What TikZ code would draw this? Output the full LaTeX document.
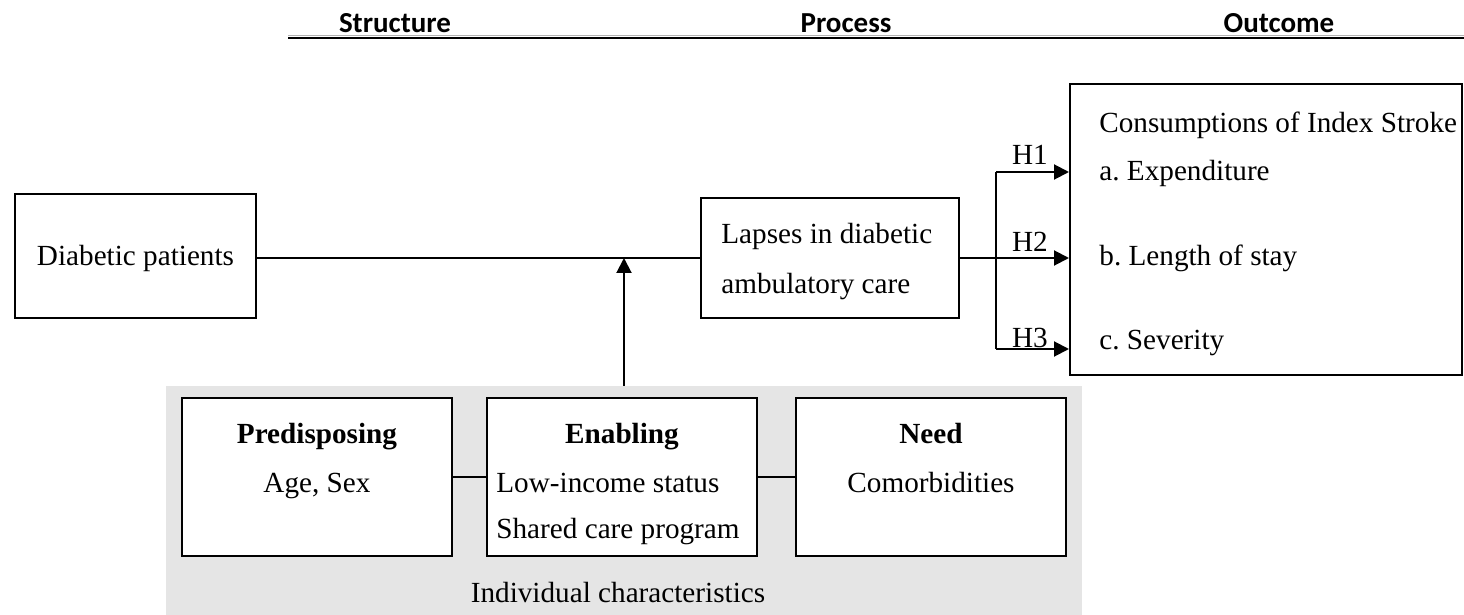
\documentclass[tikz,border=0pt]{standalone}
\usepackage{fontspec}
\setmainfont{Liberation Serif}
\newfontfamily\hdrfont{Carlito}
\usetikzlibrary{arrows.meta}
\frenchspacing
\begin{document}
\begin{tikzpicture}[x=0.5pt,y=-0.5pt,
  font=\fontsize{14.6}{17}\selectfont\frenchspacing,
  box/.style={draw=black,line width=1pt,fill=white,inner sep=0pt},
  txt/.style={inner sep=0pt,anchor=base},
  txtl/.style={inner sep=0pt,anchor=base west},
  hdr/.style={inner sep=0pt,anchor=base,font=\hdrfont\bfseries\fontsize{14.5}{17}\selectfont},
  conn/.style={line width=0.9pt},
  arr/.style={line width=1pt,-{Triangle[length=7.5pt,width=7.5pt]}}]
\useasboundingbox (0,0) rectangle (1464,615);
% header
\node[hdr] (hs) at (395,33) {Structure};
\node[hdr] (hp) at (846,33) {Process};
\node[hdr] (ho) at (1279,33) {Outcome};
\coordinate (l1) at (288,38);
\coordinate (l2) at (1464,38);
\draw[gray!60,line width=0.5pt] ([yshift=1.3pt]l1) -- ([yshift=1.3pt]l2);
\draw[line width=1.2pt] (l1) -- (l2);
% main boxes
\node[box,minimum width=120.5pt,minimum height=61.5pt] (dp) at (135.5,256) {};
\node[txt] (dpt) at (135.5,265) {Diabetic patients};
\node[box,minimum width=129pt,minimum height=60pt] (lap) at (830,258) {};
\node[txtl] (lap1) at (721,243) {Lapses in diabetic};
\node[txtl] (lap2) at (721,293) {ambulatory care};
\node[box,minimum width=196pt,minimum height=145.5pt] (out) at (1266,229.5) {};
\node[txtl] (o0) at (1099,133) {Consumptions of Index Stroke};
\node[txtl] (oa) at (1099,181) {a. Expenditure};
\node[txtl] (ob) at (1099,265) {b. Length of stay};
\node[txtl] (oc) at (1099,350) {c. Severity};
% gray panel
\node[fill=gray!20,draw=none,minimum width=458pt,minimum height=114.5pt,inner sep=0pt] (ind) at (624,500.5) {};
\node[box,minimum width=135pt,minimum height=79pt] (pre) at (317,477) {};
\node[box,minimum width=135pt,minimum height=79pt] (ena) at (622,477) {};
\node[box,minimum width=135pt,minimum height=79pt] (need) at (931,477) {};
\node[txt] (pre1) at (317,444) {\textbf{Predisposing}};
\node[txt] (pre2) at (317,492) {Age, Sex};
\node[txt] (ena1) at (622,444) {\textbf{Enabling}};
\node[txtl] (ena2) at (496,492) {Low-income status};
\node[txtl] (ena3) at (496,538) {Shared care program};
\node[txt] (need1) at (931,444) {\textbf{Need}};
\node[txt] (need2) at (931,492) {Comorbidities};
\node[txt] (indt) at (618,602) {Individual characteristics};
% connectors
\draw[conn] (pre.east) -- (ena.west);
\draw[conn] (ena.east) -- (need.west);
\draw[conn] (dp.east |- lap.west) -- (lap.west);
\coordinate (jn) at (624,258);
\draw[arr] (ind.north) -- (jn);
\coordinate (br) at (996,258);
\coordinate (b1) at (996,172);
\coordinate (b3) at (996,349);
\draw[line width=1.3pt] (lap.east) -- (br);
\draw[line width=1pt] (b1) -- (b3);
\draw[arr] (b1) -- (out.west |- b1);
\draw[arr] (br) -- (out.west |- br);
\draw[arr] (b3) -- (out.west |- b3);
\node[txt] (h1) at (1030,165) {H1};
\node[txt] (h2) at (1030,252) {H2};
\node[txt] (h3) at (1030,348) {H3};
\end{tikzpicture}
\end{document}
